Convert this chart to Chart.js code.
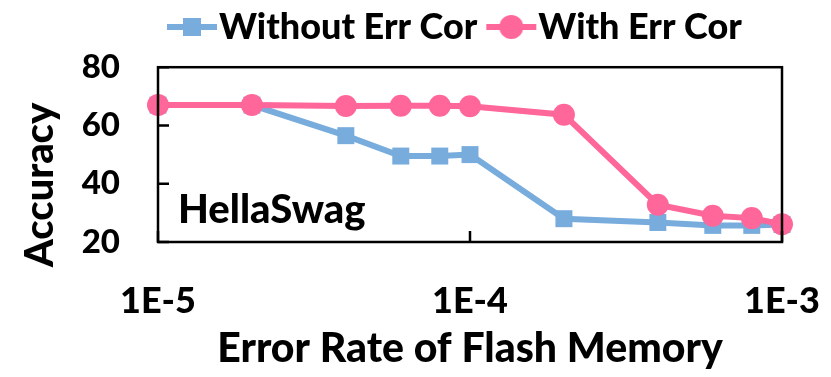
<!DOCTYPE html>
<html>
<head>
<meta charset="utf-8">
<script src="https://cdn.jsdelivr.net/npm/chart.js@4.4.1/dist/chart.umd.min.js"></script>
<style>
  html, body { margin: 0; padding: 0; background: #fff; }
</style>
</head>
<body>
<canvas id="accChart" width="831" height="377"></canvas>
<script>
  // data
  const errorRates = [1e-5, 2e-5, 4e-5, 6e-5, 8e-5, 1e-4, 2e-4, 4e-4, 6e-4, 8e-4, 1e-3];
  const withoutErrCor = [67, 67, 56.5, 49.5, 49.5, 50, 28, 26.7, 25.7, 25.7, 26];
  const withErrCor = [67, 67, 66.7, 66.8, 66.8, 66.6, 63.7, 32.8, 29, 28.2, 26.1];
  const xTickValues = [1e-5, 1e-4, 1e-3];
  const xTickLabels = ['1E-5', '1E-4', '1E-3'];
  const seriesNames = ['Without Err Cor', 'With Err Cor'];

  const BLUE = '#77acdd';
  const PINK = '#ff6699';
  const FONT = 'Lato';
  const W = '900';
  const ICON_BOX = 34;

  // legend symbol: line with marker, drawn so it starts at the legend box edge
  function legendIcon(color, shape) {
      const c = document.createElement('canvas');
      c.width = 100; c.height = 26;
      const g = c.getContext('2d');
      const x0 = 50 - ICON_BOX / 2;
      g.strokeStyle = color;
      g.lineWidth = 6;
      g.beginPath(); g.moveTo(x0, 13); g.lineTo(x0 + 50, 13); g.stroke();
      g.fillStyle = color;
      if (shape === 'rect') {
          g.fillRect(x0 + 25 - 9, 13 - 9, 18, 18);
      } else {
          g.beginPath(); g.arc(x0 + 25, 13, 12, 0, Math.PI * 2); g.fill();
      }
      return c;
  }

  const toPoints = arr => arr.map((v, i) => ({ x: errorRates[i], y: v }));

  // plot frame, inward ticks and panel label
  const framePlugin = {
      id: 'frame',
      afterDatasetsDraw(chart) {
          const { ctx, chartArea: a, scales } = chart;
          ctx.save();
          ctx.strokeStyle = '#000';
          ctx.lineWidth = 2.5;
          ctx.strokeRect(a.left, a.top, a.right - a.left, a.bottom - a.top);
          ctx.beginPath();
          scales.y.ticks.forEach(t => {
              const py = scales.y.getPixelForValue(t.value);
              ctx.moveTo(a.left, py); ctx.lineTo(a.left + 11, py);
          });
          scales.x.ticks.forEach(t => {
              const px = scales.x.getPixelForValue(t.value);
              ctx.moveTo(px, a.bottom); ctx.lineTo(px, a.bottom - 11);
          });
          ctx.stroke();
          ctx.restore();
      },
      afterDraw(chart) {
          const { ctx, chartArea: a } = chart;
          ctx.save();
          ctx.fillStyle = '#000';
          ctx.font = W + ' 40px ' + FONT;
          ctx.textBaseline = 'middle';
          ctx.fillText('HellaSwag', a.left + 20, 210);
          // y axis title
          ctx.translate(40, 185);
          ctx.rotate(-Math.PI / 2);
          ctx.textAlign = 'center';
          ctx.font = W + ' 40px ' + FONT;
          ctx.fillText('Accuracy', 0, 0);
          ctx.restore();
      }
  };

  new Chart(document.getElementById('accChart'), {
      type: 'line',
      data: {
          datasets: [
              {
                  label: seriesNames[0],
                  data: toPoints(withoutErrCor),
                  borderColor: BLUE,
                  backgroundColor: BLUE,
                  borderWidth: 6,
                  pointStyle: 'rect',
                  pointRadius: 12,
                  pointBorderWidth: 0,
                  clip: false,
                  order: 2
              },
              {
                  label: seriesNames[1],
                  data: toPoints(withErrCor),
                  borderColor: PINK,
                  backgroundColor: PINK,
                  borderWidth: 6,
                  pointStyle: 'circle',
                  pointRadius: 11,
                  pointBorderWidth: 0,
                  clip: false,
                  order: 1
              }
          ]
      },
      options: {
          responsive: false,
          animation: false,
          devicePixelRatio: 1,
          layout: { padding: { left: 0, right: 49, top: 0, bottom: 0 } },
          plugins: {
              tooltip: { enabled: false },
              // empty subtitle only keeps a gap between legend and plot
              subtitle: {
                  display: true,
                  text: '',
                  font: { size: 1 },
                  padding: { top: 0, bottom: 11 }
              },
              legend: {
                  position: 'top',
                  fullSize: false,
                  align: 'start',
                  weight: 3000,
                  labels: {
                      usePointStyle: true,
                      pointStyleWidth: ICON_BOX,
                      padding: 9,
                      color: '#000',
                      font: { family: FONT, size: 36, weight: W },
                      sort: (a, b) => a.datasetIndex - b.datasetIndex,
                      generateLabels(chart) {
                          return chart.data.datasets.map((ds, i) => ({
                              text: ds.label,
                              datasetIndex: i,
                              fontColor: '#000',
                              pointStyle: legendIcon(ds.borderColor, ds.pointStyle),
                              lineWidth: 0,
                              strokeStyle: ds.borderColor,
                              fillStyle: ds.borderColor
                          }));
                      }
                  }
              }
          },
          scales: {
              x: {
                  type: 'logarithmic',
                  min: 1e-5,
                  max: 1e-3,
                  afterBuildTicks(scale) {
                      scale.ticks = xTickValues.map(v => ({ value: v }));
                  },
                  afterFit(scale) {
                      scale.height = 135;
                      scale.paddingLeft = 0;
                      scale.paddingRight = 0;
                  },
                  grid: { display: false, drawTicks: false },
                  border: { display: false },
                  ticks: {
                      padding: 38,
                      color: '#000',
                      maxRotation: 0,
                      font: { family: FONT, size: 36, weight: W },
                      callback: (v) => xTickLabels[xTickValues.indexOf(v)]
                  },
                  title: {
                      display: true,
                      text: 'Error Rate of Flash Memory',
                      color: '#000',
                      font: { family: FONT, size: 41, weight: W },
                      padding: { top: 0, bottom: 4 }
                  }
              },
              y: {
                  min: 20,
                  max: 80,
                  afterFit(scale) {
                      scale.width = 158;
                      scale.paddingTop = 0;
                      scale.paddingBottom = 0;
                  },
                  grid: { display: false, drawTicks: false },
                  border: { display: false },
                  ticks: {
                      stepSize: 20,
                      padding: 38,
                      color: '#000',
                      font: { family: FONT, size: 33, weight: W }
                  }
              }
          }
      },
      plugins: [framePlugin]
  });
</script>
</body>
</html>
